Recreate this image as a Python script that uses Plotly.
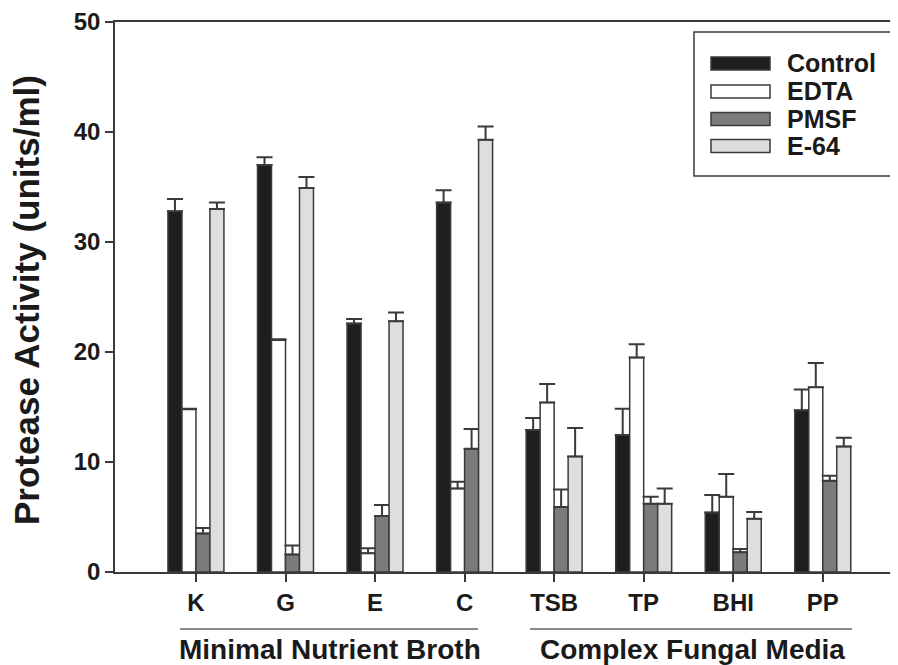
import plotly.graph_objects as go

categories = ["K", "G", "E", "C", "TSB", "TP", "BHI", "PP"]
series_names = ["Control", "EDTA", "PMSF", "E-64"]

control = [32.8, 37.0, 22.6, 33.6, 12.9, 12.45, 5.4, 14.7]
control_err = [1.1, 0.7, 0.4, 1.1, 1.1, 2.4, 1.6, 1.9]
edta = [14.8, 21.1, 1.7, 7.6, 15.4, 19.5, 6.85, 16.8]
edta_err = [0.05, 0.05, 0.45, 0.6, 1.7, 1.2, 2.05, 2.2]
pmsf = [3.5, 1.6, 5.1, 11.2, 5.9, 6.2, 1.8, 8.3]
pmsf_err = [0.5, 0.8, 1.0, 1.8, 1.6, 0.65, 0.3, 0.45]
e64 = [33.0, 34.9, 22.8, 39.3, 10.5, 6.2, 4.85, 11.4]
e64_err = [0.6, 1.0, 0.8, 1.2, 2.6, 1.4, 0.6, 0.8]

group_labels = ["Minimal Nutrient Broth", "Complex Fungal Media"]
y_title = "Protease Activity (units/ml)"
y_ticks = [0, 10, 20, 30, 40, 50]

values = [control, edta, pmsf, e64]
errors = [control_err, edta_err, pmsf_err, e64_err]
fills = ["#1e1e1e", "#ffffff", "#7b7b7b", "#dedede"]
edge = "#3a3a3a"
FONT = "Liberation Sans, Arial, Helvetica, sans-serif"

# The page body adds an 8px margin, so the figure is shrunk by that amount.
OFF = 8
W, H = 898 - OFF, 665 - OFF
PLOT_LEFT, PLOT_TOP, PLOT_BOTTOM = 115, 22, 572   # in window pixels
L = PLOT_LEFT - OFF
T = PLOT_TOP - OFF
B = H - (PLOT_BOTTOM - OFF)
R = 0
PW, PH = W - L - R, H - T - B


def px(x):
    return (x - PLOT_LEFT) / PW


def py(y):
    return (PLOT_BOTTOM - y) / PH


fig = go.Figure()
for name, v, e, c in zip(series_names, values, errors, fills):
    fig.add_trace(go.Bar(
        x=categories, y=v, name=name,
        marker=dict(color=c, line=dict(color=edge, width=1.5)),
        error_y=dict(type="data", array=e, arrayminus=[0] * len(e), symmetric=False,
                     color=edge, thickness=2, width=8),
        showlegend=False,
    ))

shapes = []
annotations = []

# manual legend
shapes.append(dict(type="rect", xref="paper", yref="paper",
                   x0=px(694), x1=px(892), y0=py(32), y1=py(176),
                   line=dict(color=edge, width=1.5), fillcolor="white", layer="below"))
row_y = [63.5, 91.5, 119, 146]
for name, c, ry in zip(series_names, fills, row_y):
    shapes.append(dict(type="rect", xref="paper", yref="paper",
                       x0=px(711), x1=px(770), y0=py(ry - 6.5), y1=py(ry + 6.5),
                       line=dict(color=edge, width=1.5), fillcolor=c))
    annotations.append(dict(x=px(785), y=py(ry), xref="paper", yref="paper",
                            text=name, showarrow=False, xanchor="left", yanchor="middle",
                            font=dict(family=FONT, size=25, color="#1a1a1a", weight="bold")))

# group lines and labels
for lbl, (x0, x1) in zip(group_labels, [(180, 478), (530, 852)]):
    shapes.append(dict(type="line", xref="paper", yref="paper",
                       x0=px(x0), x1=px(x1), y0=py(629), y1=py(629),
                       line=dict(color="#666666", width=1.5)))
    annotations.append(dict(x=px((x0 + x1) / 2 + 1), y=py(649), xref="paper", yref="paper",
                            text=lbl, showarrow=False, xanchor="center", yanchor="middle",
                            font=dict(family=FONT, size=28, color="#1a1a1a", weight="bold")))

# y title
annotations.append(dict(x=px(27), y=py(300), xref="paper", yref="paper",
                        text=y_title, textangle=-90, showarrow=False,
                        xanchor="center", yanchor="middle",
                        font=dict(family=FONT, size=35, color="#1a1a1a", weight="bold")))

fig.update_layout(
    width=W, height=H,
    margin=dict(l=L, r=R, t=T, b=B, pad=0),
    paper_bgcolor="white", plot_bgcolor="white",
    barmode="group", bargap=0.375, bargroupgap=0.0,
    shapes=shapes, annotations=annotations,
    showlegend=False,
)
fig.update_xaxes(
    type="category", range=[-0.904, 7.84],
    showline=True, linecolor=edge, linewidth=1.5, mirror=True,
    ticks="outside", ticklen=8, tickwidth=1.5, tickcolor=edge,
    tickfont=dict(family=FONT, size=24, color="#1a1a1a", weight="bold"),
    showgrid=False, zeroline=False,
)
fig.update_yaxes(
    range=[0, 50], tickvals=y_ticks,
    showline=True, linecolor=edge, linewidth=1.5,
    ticks="outside", ticklen=8, tickwidth=1.5, tickcolor=edge,
    tickfont=dict(family=FONT, size=24, color="#1a1a1a", weight="bold"),
    showgrid=False, zeroline=False,
)

fig.write_html("out.html")
